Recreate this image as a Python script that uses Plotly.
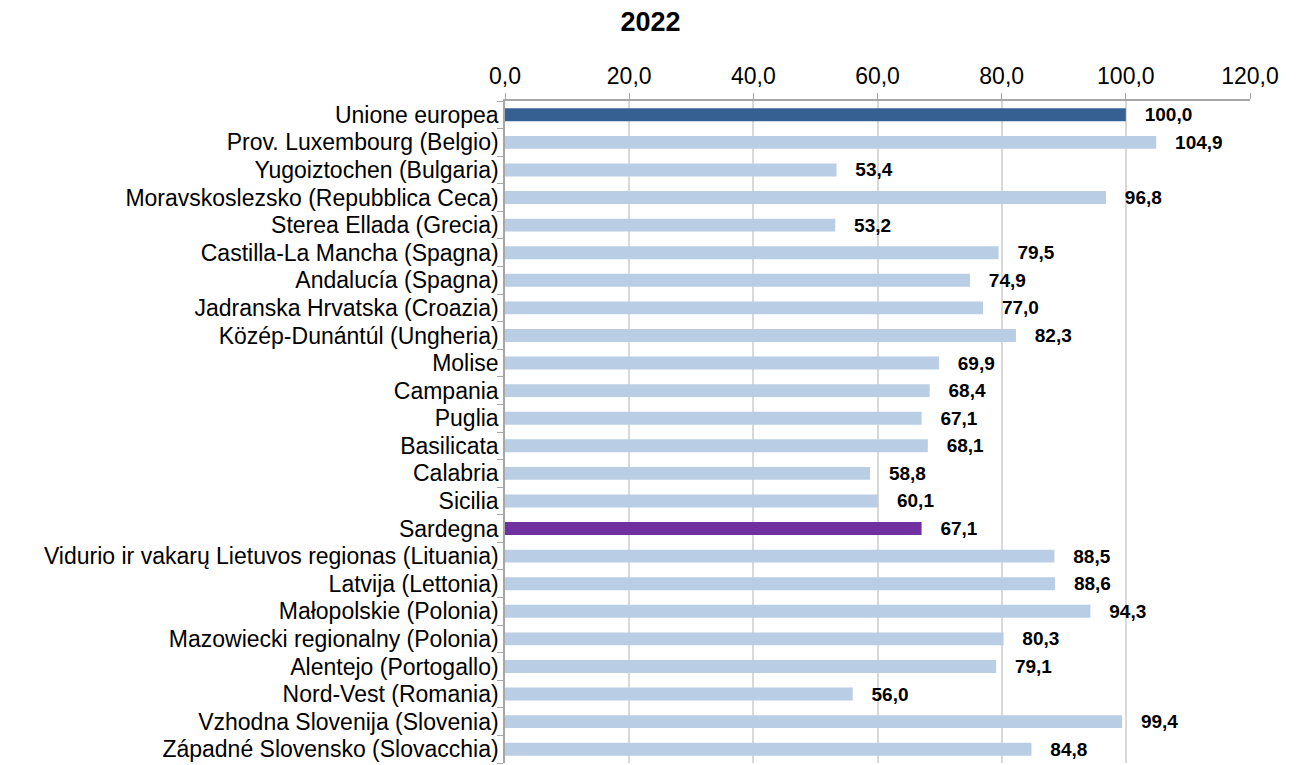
import plotly.graph_objects as go

regioni = ["Unione europea", "Prov. Luxembourg (Belgio)", "Yugoiztochen (Bulgaria)",
           "Moravskoslezsko (Repubblica Ceca)", "Sterea Ellada (Grecia)",
           "Castilla-La Mancha (Spagna)", "Andalucía (Spagna)", "Jadranska Hrvatska (Croazia)",
           "Közép-Dunántúl (Ungheria)", "Molise", "Campania", "Puglia", "Basilicata",
           "Calabria", "Sicilia", "Sardegna",
           "Vidurio ir vakarų Lietuvos regionas (Lituania)", "Latvija (Lettonia)",
           "Małopolskie (Polonia)", "Mazowiecki regionalny (Polonia)",
           "Alentejo (Portogallo)", "Nord-Vest (Romania)", "Vzhodna Slovenija (Slovenia)",
           "Západné Slovensko (Slovacchia)"]
valori = [100.0, 104.9, 53.4, 96.8, 53.2, 79.5, 74.9, 77.0, 82.3, 69.9, 68.4, 67.1,
          68.1, 58.8, 60.1, 67.1, 88.5, 88.6, 94.3, 80.3, 79.1, 56.0, 99.4, 84.8]

colori = []
for r in regioni:
    if r == "Unione europea":
        colori.append("#376092")
    elif r == "Sardegna":
        colori.append("#7030A0")
    else:
        colori.append("#B9CDE5")

testi = ["   " + f"{v:.1f}".replace(".", ",") for v in valori]

fig = go.Figure()
fig.add_trace(go.Bar(x=valori, y=regioni, orientation="h",
                     marker=dict(color=colori, line=dict(width=0)),
                     width=0.47,
                     text=testi, textposition="outside", cliponaxis=False,
                     constraintext="none",
                     textfont=dict(family="Liberation Sans", size=19, color="black", weight="bold")))

# the page adds an 8px body margin, so the figure is a bit smaller than the window
fig.update_layout(
    title=dict(text="<b>2022</b>", x=0.4988, y=0.9815, xanchor="center", yanchor="middle",
               font=dict(family="Liberation Sans", size=27, color="black")),
    width=1288, height=757,
    margin=dict(l=497, r=46, t=93, b=2, autoexpand=False),
    plot_bgcolor="white", paper_bgcolor="white",
    font=dict(family="Liberation Sans", size=22, color="black"),
    showlegend=False,
    separators=",.",
)
fig.update_xaxes(side="top", range=[0, 120], dtick=20, tickformat=".1f",
                 showgrid=True, gridcolor="#D9D9D9", gridwidth=1.5,
                 showline=True, linecolor="#A6A6A6", linewidth=1.5,
                 ticks="outside", ticklen=6, tickcolor="#A6A6A6",
                 zeroline=False, automargin=False, tickfont=dict(size=23))
fig.update_yaxes(autorange="reversed", showline=True, linecolor="#A6A6A6", linewidth=1.5,
                 tickmode="array", tickvals=regioni, ticktext=regioni,
                 ticks="outside", tickson="boundaries", ticklen=6, tickcolor="#A6A6A6",
                 showgrid=False, automargin=False, tickfont=dict(size=23))

fig.write_html("out.html")
